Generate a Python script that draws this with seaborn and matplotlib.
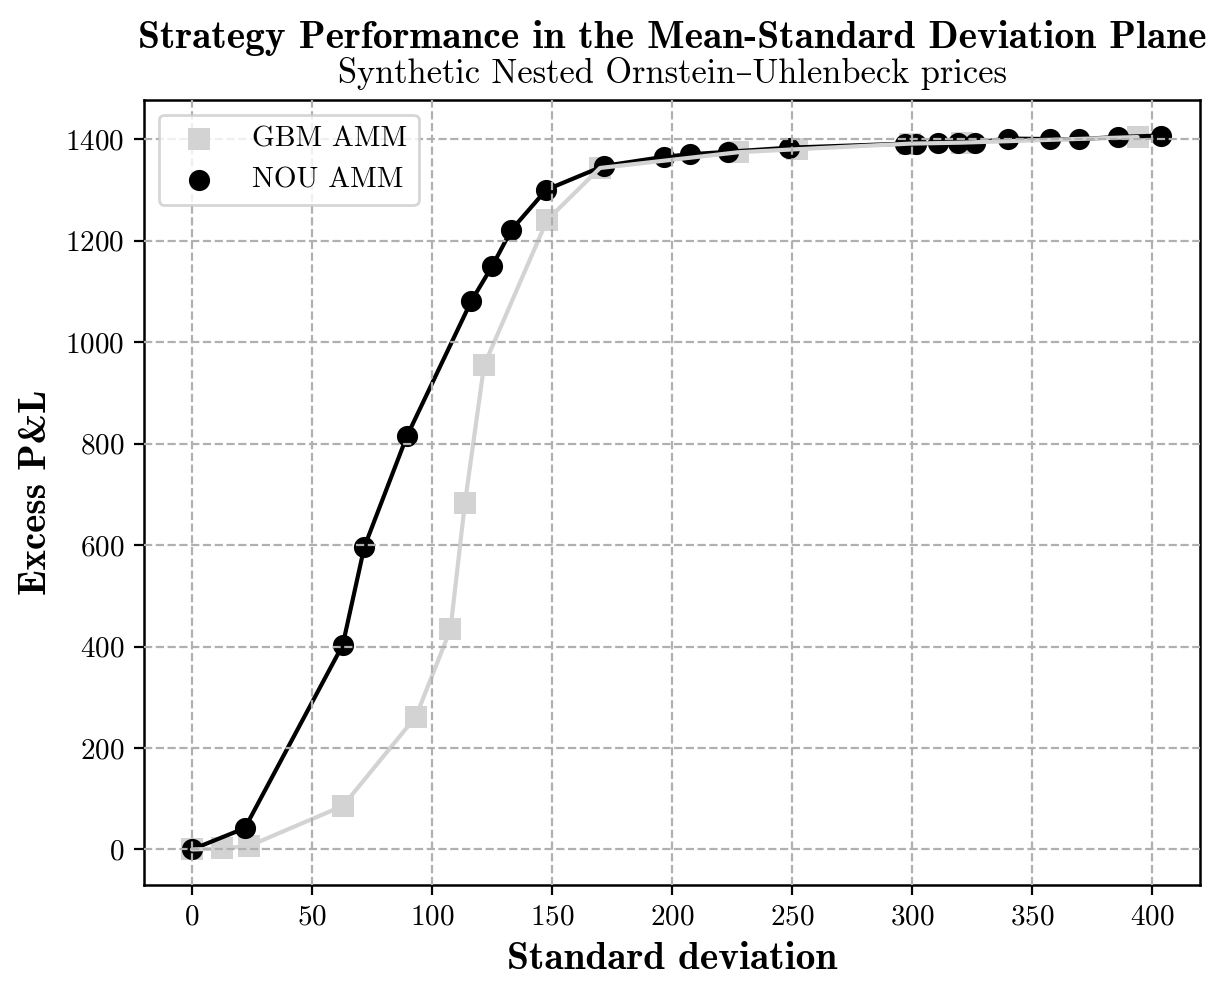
import matplotlib
matplotlib.use("Agg")
import matplotlib.pyplot as plt
import seaborn as sns
import pandas as pd

# valores
gbm_std = [0, 12.6, 23.8, 62.9, 93.3, 107.7, 113.7, 121.7, 147.9, 170.0, 227.5, 252.0, 299.0, 321.0, 394.0]
gbm_pnl = [0, 2, 7, 86, 262, 434, 682, 954, 1240, 1343, 1374, 1380, 1391, 1393, 1404]

nou_std = [0, 22.0, 62.8, 71.8, 89.5, 116.4, 125.0, 133.1, 147.6, 171.5, 196.7, 207.4, 223.5, 248.7,
           297.2, 301.8, 310.9, 319.3, 326.3, 339.9, 357.7, 369.7, 385.7, 403.6]
nou_pnl = [0, 42, 403, 596, 814, 1081, 1149, 1221, 1300, 1347, 1365, 1370, 1375, 1383,
           1391, 1391, 1392, 1393, 1393, 1401, 1400, 1400, 1404, 1407]

df_gbm = pd.DataFrame({"std": gbm_std, "pnl": gbm_pnl})
df_nou = pd.DataFrame({"std": nou_std, "pnl": nou_pnl})

sns.set_style("ticks")
plt.rcParams["font.family"] = ["cmr10", "DejaVu Serif"]
plt.rcParams["axes.formatter.use_mathtext"] = True
plt.rcParams["font.size"] = 10.5
plt.rcParams["text.color"] = "black"
plt.rcParams["axes.labelcolor"] = "black"
plt.rcParams["xtick.color"] = "black"
plt.rcParams["ytick.color"] = "black"

bold = ["cmb10", "DejaVu Serif"]

fig = plt.figure(figsize=(6.14, 4.985), dpi=200)
ax = fig.add_axes([144 / 1228, 1 - 885 / 997, 1056 / 1228, 785 / 997])

sns.scatterplot(data=df_gbm, x="std", y="pnl", marker="s", color="lightgray", s=58,
                linewidth=0, label="GBM AMM", ax=ax)
sns.scatterplot(data=df_nou, x="std", y="pnl", marker="o", color="black", s=58,
                linewidth=0, label="NOU AMM", ax=ax)
sns.lineplot(data=df_nou, x="std", y="pnl", color="black", linewidth=1.5,
             estimator=None, legend=False, ax=ax)
sns.lineplot(data=df_gbm, x="std", y="pnl", color="lightgray", linewidth=1.5,
             estimator=None, legend=False, ax=ax)

ax.set_xlim(-20, 420)
ax.set_ylim(-70, 1477)
ax.set_xticks(range(0, 401, 50))
ax.set_yticks(range(0, 1401, 200))
ax.set_axisbelow(False)
ax.grid(True, linestyle="--", color="#b0b0b0", linewidth=0.8)
for s in ax.spines.values():
    s.set_linewidth(0.9)
    s.set_color("black")
ax.tick_params(labelsize=10.5, width=0.8, length=3.5, color="black", labelcolor="black")

ax.set_xlabel("Standard deviation", fontsize=14.2, family=bold)
ax.set_ylabel("Excess P&L", fontsize=14, family=bold)

ax.text(0.5, 1.066, "Strategy Performance in the Mean-Standard Deviation Plane",
        transform=ax.transAxes, ha="center", va="baseline", fontsize=14.2, family=bold)
ax.text(0.5, 1.022, "Synthetic Nested Ornstein\u2013Uhlenbeck prices",
        transform=ax.transAxes, ha="center", va="baseline", fontsize=12.4)

ax.legend(loc="upper left", fontsize=10.5)

fig.savefig("out.png", dpi=200)
